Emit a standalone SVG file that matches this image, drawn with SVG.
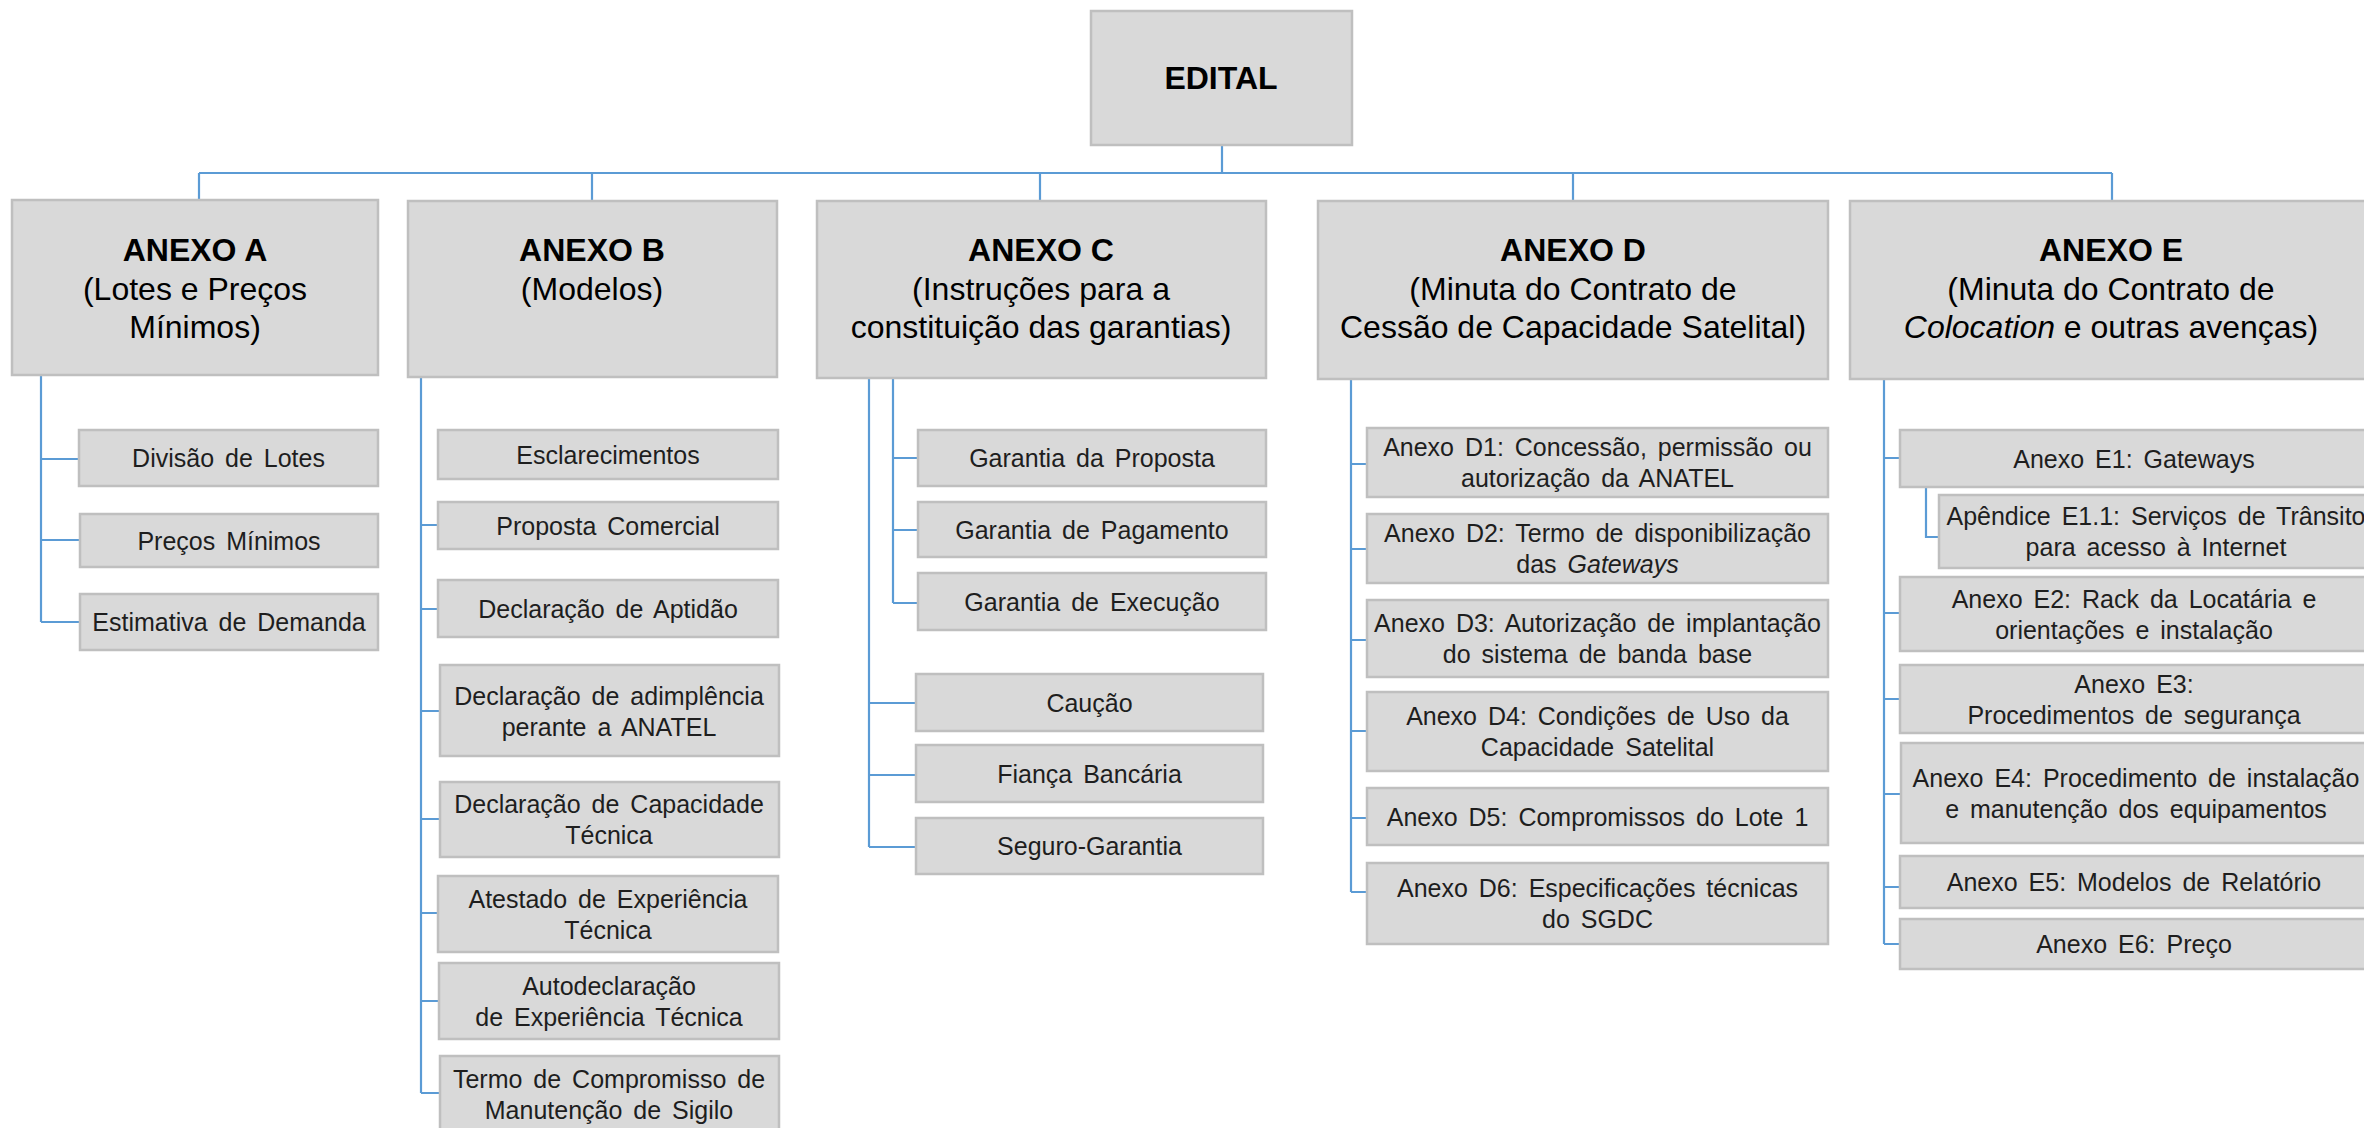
<svg xmlns="http://www.w3.org/2000/svg" width="2364" height="1128" viewBox="0 0 2364 1128">
<style>
.box{fill:#d9d9d9;stroke:#bfbfbf;stroke-width:2.5}
.hd{font-family:"Liberation Sans",Arial,sans-serif;font-size:32px;fill:#000;text-anchor:middle}
.hb{font-weight:bold}
.ch{font-family:"Liberation Sans",Arial,sans-serif;font-size:25px;fill:#1e1e1e;text-anchor:middle;word-spacing:4px}
.ln{fill:none;stroke:#5b9bd5;stroke-width:2.2}
</style>
<rect width="2364" height="1128" fill="#fff"/>
<g id="connectors" class="ln">
<path d="M1222 145V173M199 173H2112M199 173V200M592 173V201M1040 173V201M1573 173V201M2112 173V201"/>
<path d="M41 375V622M41 459H79M41 540H80M41 622H80"/>
<path d="M421 377V1093M421 525H438M421 609H438M421 711H440M421 819H440M421 913H438M421 1001H439M421 1093H440"/>
<path d="M893 378V603M893 458H918M893 530H918M893 603H918"/>
<path d="M869 378V847M869 703H916M869 775H916M869 847H916"/>
<path d="M1351 379V892M1351 464H1367M1351 549H1367M1351 640H1367M1351 731H1367M1351 818H1367M1351 892H1367"/>
<path d="M1884 379V944M1884 458H1900M1884 613H1900M1884 699H1900M1884 794H1900M1884 887H1900M1884 944H1900"/>
<path d="M1926 487V537H1939"/>
</g>
<g id="edital"><rect class="box" x="1091" y="11" width="261" height="134"/><text class="hd hb" x="1221" y="89">EDITAL</text></g>
<g id="anexo-a"><rect class="box" x="12" y="200" width="366" height="175"/><text class="hd"><tspan class="hb" x="195" y="261">ANEXO A</tspan><tspan x="195" y="300">(Lotes e Preços</tspan><tspan x="195" y="338">Mínimos)</tspan></text></g>
<g id="anexo-b"><rect class="box" x="408" y="201" width="369" height="176"/><text class="hd"><tspan class="hb" x="592" y="261">ANEXO B</tspan><tspan x="592" y="300">(Modelos)</tspan></text></g>
<g id="anexo-c"><rect class="box" x="817" y="201" width="449" height="177"/><text class="hd"><tspan class="hb" x="1041" y="261">ANEXO C</tspan><tspan x="1041" y="300">(Instruções para a</tspan><tspan x="1041" y="338">constituição das garantias)</tspan></text></g>
<g id="anexo-d"><rect class="box" x="1318" y="201" width="510" height="178"/><text class="hd"><tspan class="hb" x="1573" y="261">ANEXO D</tspan><tspan x="1573" y="300">(Minuta do Contrato de</tspan><tspan x="1573" y="338">Cessão de Capacidade Satelital)</tspan></text></g>
<g id="anexo-e"><rect class="box" x="1850" y="201" width="522" height="178"/><text class="hd"><tspan class="hb" x="2111" y="261">ANEXO E</tspan><tspan x="2111" y="300">(Minuta do Contrato de</tspan><tspan x="2111" y="338"><tspan font-style="italic">Colocation</tspan> e outras avenças)</tspan></text></g>

<g id="a1"><rect class="box" x="79" y="430" width="299" height="56"/><text class="ch" x="228.5" y="467">Divisão de Lotes</text></g>
<g id="a2"><rect class="box" x="80" y="514" width="298" height="53"/><text class="ch" x="229" y="549.5">Preços Mínimos</text></g>
<g id="a3"><rect class="box" x="80" y="594" width="298" height="56"/><text class="ch" x="229" y="631">Estimativa de Demanda</text></g>

<g id="b1"><rect class="box" x="438" y="430" width="340" height="49"/><text class="ch" x="608" y="463.5">Esclarecimentos</text></g>
<g id="b2"><rect class="box" x="438" y="502" width="340" height="47"/><text class="ch" x="608" y="534.5">Proposta Comercial</text></g>
<g id="b3"><rect class="box" x="438" y="580" width="340" height="57"/><text class="ch" x="608" y="617.5">Declaração de Aptidão</text></g>
<g id="b4"><rect class="box" x="440" y="665" width="339" height="91"/><text class="ch"><tspan x="609" y="705">Declaração de adimplência</tspan><tspan x="609" y="736">perante a ANATEL</tspan></text></g>
<g id="b5"><rect class="box" x="440" y="782" width="339" height="75"/><text class="ch"><tspan x="609" y="813">Declaração de Capacidade</tspan><tspan x="609" y="844">Técnica</tspan></text></g>
<g id="b6"><rect class="box" x="438" y="876" width="340" height="76"/><text class="ch"><tspan x="608" y="907.5">Atestado de Experiência</tspan><tspan x="608" y="938.5">Técnica</tspan></text></g>
<g id="b7"><rect class="box" x="439" y="963" width="340" height="76"/><text class="ch"><tspan x="609" y="994.5">Autodeclaração</tspan><tspan x="609" y="1025.5">de Experiência Técnica</tspan></text></g>
<g id="b8"><rect class="box" x="440" y="1056" width="339" height="78"/><text class="ch"><tspan x="609" y="1087.5">Termo de Compromisso de</tspan><tspan x="609" y="1118.5">Manutenção de Sigilo</tspan></text></g>

<g id="c1"><rect class="box" x="918" y="430" width="348" height="56"/><text class="ch" x="1092" y="467">Garantia da Proposta</text></g>
<g id="c2"><rect class="box" x="918" y="502" width="348" height="55"/><text class="ch" x="1092" y="538.5">Garantia de Pagamento</text></g>
<g id="c3"><rect class="box" x="918" y="573" width="348" height="57"/><text class="ch" x="1092" y="610.5">Garantia de Execução</text></g>
<g id="c4"><rect class="box" x="916" y="674" width="347" height="57"/><text class="ch" x="1089.5" y="711.5">Caução</text></g>
<g id="c5"><rect class="box" x="916" y="745" width="347" height="57"/><text class="ch" x="1089.5" y="782.5">Fiança Bancária</text></g>
<g id="c6"><rect class="box" x="916" y="818" width="347" height="56"/><text class="ch" x="1089.5" y="855">Seguro-Garantia</text></g>

<g id="d1"><rect class="box" x="1367" y="428" width="461" height="69"/><text class="ch"><tspan x="1597.5" y="456">Anexo D1: Concessão, permissão ou</tspan><tspan x="1597.5" y="487">autorização da ANATEL</tspan></text></g>
<g id="d2"><rect class="box" x="1367" y="514" width="461" height="69"/><text class="ch"><tspan x="1597.5" y="542">Anexo D2: Termo de disponibilização</tspan><tspan x="1597.5" y="573">das <tspan font-style="italic">Gateways</tspan></tspan></text></g>
<g id="d3"><rect class="box" x="1367" y="600" width="461" height="77"/><text class="ch"><tspan x="1597.5" y="632">Anexo D3: Autorização de implantação</tspan><tspan x="1597.5" y="663">do sistema de banda base</tspan></text></g>
<g id="d4"><rect class="box" x="1367" y="692" width="461" height="79"/><text class="ch"><tspan x="1597.5" y="725">Anexo D4: Condições de Uso da</tspan><tspan x="1597.5" y="756">Capacidade Satelital</tspan></text></g>
<g id="d5"><rect class="box" x="1367" y="788" width="461" height="57"/><text class="ch" x="1597.5" y="825.5">Anexo D5: Compromissos do Lote 1</text></g>
<g id="d6"><rect class="box" x="1367" y="863" width="461" height="81"/><text class="ch"><tspan x="1597.5" y="897">Anexo D6: Especificações técnicas</tspan><tspan x="1597.5" y="928">do SGDC</tspan></text></g>

<g id="e1"><rect class="box" x="1900" y="430" width="468" height="57"/><text class="ch" x="2134" y="467.5">Anexo E1: Gateways</text></g>
<g id="e11"><rect class="box" x="1939" y="495" width="434" height="73"/><text class="ch"><tspan x="2156" y="525">Apêndice E1.1: Serviços de Trânsito</tspan><tspan x="2156" y="556">para acesso à Internet</tspan></text></g>
<g id="e2"><rect class="box" x="1900" y="577" width="468" height="74"/><text class="ch"><tspan x="2134" y="607.5">Anexo E2: Rack da Locatária e</tspan><tspan x="2134" y="638.5">orientações e instalação</tspan></text></g>
<g id="e3"><rect class="box" x="1900" y="665" width="468" height="68"/><text class="ch"><tspan x="2134" y="692.5">Anexo E3:</tspan><tspan x="2134" y="723.5">Procedimentos de segurança</tspan></text></g>
<g id="e4"><rect class="box" x="1901" y="743" width="467" height="100"/><text class="ch"><tspan x="2136" y="786.5">Anexo E4: Procedimento de instalação</tspan><tspan x="2136" y="817.5">e manutenção dos equipamentos</tspan></text></g>
<g id="e5"><rect class="box" x="1900" y="856" width="468" height="52"/><text class="ch" x="2134" y="891">Anexo E5: Modelos de Relatório</text></g>
<g id="e6"><rect class="box" x="1900" y="919" width="468" height="50"/><text class="ch" x="2134" y="953">Anexo E6: Preço</text></g>
</svg>
